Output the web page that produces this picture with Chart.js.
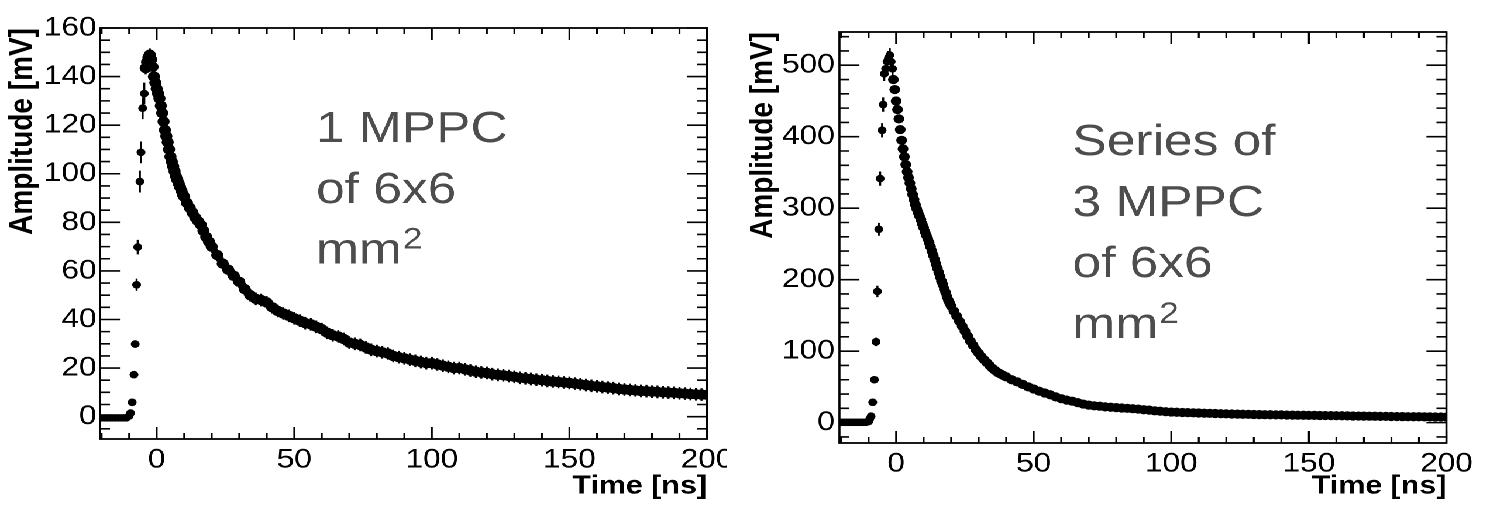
<!DOCTYPE html>
<html>
<head>
<meta charset="utf-8">
<script src="https://cdn.jsdelivr.net/npm/chart.js@4.4.1/dist/chart.umd.min.js"></script>
<style>
  body { margin: 0; background: #fff; width: 1500px; height: 527px; overflow: hidden; position: relative; }
  #stage { position: absolute; left: 0; top: 0; height: 527px; transform-origin: 0 0; }
  #stage canvas { position: absolute; top: 0; }
</style>
</head>
<body>
<div id="stage">
  <canvas id="left" width="621" height="527"></canvas>
  <canvas id="right" width="650" height="527"></canvas>
</div>
<script>
// ---- 1 MPPC of 6x6 mm2 ----
const timeBase1 = [-20, -19, -18, -17, -16, -15, -14, -13, -12, -11, -10];
const ampBase1 = [-0.5, -0.5, -0.5, -0.5, -0.5, -0.5, -0.5, -0.5, -0.5, -0.5, 0.3];
const timeRise1 = [-9.5, -8.9, -8.25, -7.8, -7.3, -6.9, -6.1, -5.7, -5.1, -4.5];
const ampRise1 = [1.5, 5.9, 17.3, 29.9, 54.3, 69.8, 96.8, 108.8, 127, 133];
const errRise1 = [0, 0.5, 1, 1.5, 2.5, 3, 4.5, 4.5, 4.5, 4.5];
const timeDecay1 = [-4, -3.5, -3, -2.5, -2, -1.5, -1, -0.5, 0, 0.5, 1, 1.5, 2, 2.5, 3, 3.5, 4, 4.5, 5, 5.5,
  6, 6.5, 7, 7.5, 8, 8.5, 9, 9.5, 10, 11, 12, 13, 14, 15, 16, 17, 18, 19,
  20, 22, 24, 26, 28, 30, 32, 34, 36, 38, 40, 42, 44, 46, 48, 50, 52, 54, 56, 58, 60, 62, 64, 66, 68, 70,
  72, 74, 76, 78, 80, 82, 84, 86, 88, 90, 92, 94, 96, 98, 100, 102, 104, 106, 108, 110, 112, 114, 116, 118,
  120, 122, 124, 126, 128, 130, 132, 134, 136, 138, 140, 142, 144, 146, 148, 150, 152, 154, 156, 158, 160,
  162, 164, 166, 168, 170, 172, 174, 176, 178, 180, 182, 184, 186, 188, 190, 192, 194, 196, 198, 200];
const ampDecay1 = [143.5, 146, 148, 149, 147, 144, 140, 137.5, 135, 133, 131, 128, 125, 121.5, 118, 115.5, 113, 110, 107, 105,
  103, 101, 99, 97.5, 96, 94.5, 93, 91.5, 90.5, 88, 86, 84, 82, 80.5, 79, 76.5, 74, 72,
  70, 66.5, 63, 60.5, 58, 55.5, 52.5, 50, 48.5, 48, 47, 45, 43.5, 42.5, 41.5, 40.5, 39.5, 38.5, 38, 37, 36, 34.5, 33.5, 33, 32, 30.5,
  30, 29.5, 28.5, 27.5, 27, 26.5, 26, 25, 24.5, 24, 23.5, 23, 22.5, 22, 22, 21.5, 21, 20.5, 20, 20, 19.5, 19, 18.5, 18.2,
  18, 17.5, 17.2, 17, 16.7, 16.4, 16, 15.8, 15.5, 15.2, 15, 14.7, 14.5, 14.3, 14.1, 13.9, 13.6, 13.3, 13, 12.7, 12.5,
  12.2, 12, 11.7, 11.4, 11.2, 11, 10.8, 10.6, 10.5, 10.3, 10.2, 10, 9.9, 9.8, 9.6, 9.5, 9.3, 9.2, 9.1, 9];
const errDecay1 = 2.6;

// ---- Series of 3 MPPC of 6x6 mm2 ----
const timeBase2 = [-20, -19, -18, -17, -16, -15, -14, -13, -12, -11, -10];
const ampBase2 = [0.5, 0.5, 0.5, 0.5, 0.5, 0.5, 0.5, 0.5, 0.5, 0.5, 1.5];
const timeRise2 = [-9.6, -9.1, -8.5, -7.9, -7.3, -6.8, -6.3, -5.8, -5.1, -4.7, -4.3, -3.8, -3.3, -2.8, -2.3, -1.8, -1.3];
const ampRise2 = [5, 9, 28.5, 60, 113, 183.5, 270.5, 341.4, 409, 445, 488, 495, 505, 510, 514, 505, 495];
const errRise2 = [0, 1, 2, 4, 6, 8, 9, 10, 10, 10, 10, 10, 10, 10, 10, 10, 10];
const timeDecay2 = [-1, -0.5, 0, 0.5, 1, 1.5, 2, 2.5, 3, 3.5, 4, 4.5, 5, 5.5, 6, 6.5, 7, 7.5, 8, 8.5, 9, 9.5,
  10, 10.5, 11, 11.5, 12, 12.5, 13, 13.5, 14, 14.5, 15, 15.5, 16, 16.5, 17, 17.5, 18, 18.5, 19, 19.5, 20,
  21, 22, 23, 24, 25, 26, 27, 28, 29, 30, 31, 32, 33, 34, 35, 36, 37, 38, 39, 40,
  42, 44, 46, 48, 50, 52, 54, 56, 58, 60, 62, 64, 66, 68, 70, 72, 74, 76, 78, 80, 82, 84, 86, 88, 90, 92, 94, 96, 98, 100,
  102, 104, 106, 108, 110, 112, 114, 116, 118, 120, 122, 124, 126, 128, 130, 132, 134, 136, 138, 140,
  142, 144, 146, 148, 150, 152, 154, 156, 158, 160, 162, 164, 166, 168, 170, 172, 174, 176, 178, 180,
  182, 184, 186, 188, 190, 192, 194, 196, 198, 200];
const ampDecay2 = [480, 466, 450, 438, 425, 410, 395, 383, 372, 361, 351, 343, 335, 327, 319, 312, 305, 299, 294, 289, 284, 278,
  273, 267, 262, 257, 252, 246, 240, 234, 228, 222, 216, 210, 204, 198, 193, 187, 182, 176, 171, 167, 163,
  156, 149, 142, 135, 128, 121, 114, 108, 102, 97, 92, 88, 84, 80, 76, 73, 70, 68, 66, 64,
  60, 57, 53.5, 50, 47, 44, 41.5, 39, 36, 33.5, 31.5, 30, 28, 26, 24.5, 23.5, 23, 22, 21.5, 21, 20.5, 20, 19.5, 19, 18, 17.5, 16.5, 16, 15.3, 14.8,
  14.5, 14.2, 14, 13.7, 13.5, 13.2, 13, 12.8, 12.5, 12.3, 12.1, 11.9, 11.7, 11.6, 11.4, 11.2, 11.1, 11, 10.9, 10.8,
  10.6, 10.5, 10.4, 10.3, 10.2, 10.1, 10, 9.9, 9.8, 9.7, 9.6, 9.5, 9.3, 9.2, 9.1, 9, 8.9, 8.8, 8.7, 8.6,
  8.5, 8.4, 8.3, 8.2, 8.2, 8.1, 8, 7.9, 7.9, 7.8];

// ticks and texts
const xTickValues = [0, 50, 100, 150, 200];
const yTickValues1 = [0, 20, 40, 60, 80, 100, 120, 140, 160];
const yTickValues2 = [0, 100, 200, 300, 400, 500];
const label1 = ['1 MPPC', 'of 6x6', 'mm²'];
const label2 = ['Series of', '3 MPPC', 'of 6x6', 'mm²'];

// the picture is stretched sideways, so the whole stage is too
const SX = 1.17;
const stage = document.getElementById('stage');
stage.style.width = (1500 / SX) + 'px';
stage.style.transform = 'scaleX(' + SX + ')';
document.getElementById('left').style.left = '0px';
document.getElementById('right').style.left = (740 / SX) + 'px';

const FONT = '"Liberation Sans", Arial, Helvetica, sans-serif';

function toPoints(ts, vs) {
  return ts.map((t, i) => ({ x: t, y: vs[i] }));
}

const errorBarPlugin = {
  id: 'errorBars',
  beforeDatasetsDraw(chart) {
    const { ctx } = chart;
    const y = chart.scales.y;
    ctx.save();
    ctx.strokeStyle = '#000';
    ctx.lineWidth = 1.7;
    chart.data.datasets.forEach((ds, i) => {
      if (!ds.yErr) return;
      const meta = chart.getDatasetMeta(i);
      ctx.beginPath();
      meta.data.forEach((pt, j) => {
        const e = Array.isArray(ds.yErr) ? ds.yErr[j] : ds.yErr;
        if (!e) return;
        const v = ds.data[j].y;
        ctx.moveTo(pt.x, y.getPixelForValue(v - e));
        ctx.lineTo(pt.x, y.getPixelForValue(v + e));
      });
      ctx.stroke();
    });
    ctx.restore();
  }
};

// ROOT style frame with inward ticks on all four sides
const framePlugin = {
  id: 'rootFrame',
  afterDraw(chart, args, o) {
    const { ctx, chartArea: a } = chart;
    const { x, y } = chart.scales;
    ctx.save();
    ctx.strokeStyle = '#000';
    ctx.lineWidth = 1.8;
    ctx.strokeRect(a.left, a.top, a.right - a.left, a.bottom - a.top);
    ctx.lineWidth = 1.6;
    ctx.beginPath();
    for (let k = Math.ceil(x.min / o.xMinor); k * o.xMinor <= x.max; k++) {
      const v = k * o.xMinor;
      const px = x.getPixelForValue(v);
      const len = v % o.xMajor === 0 ? 12 : 6;
      ctx.moveTo(px, a.bottom); ctx.lineTo(px, a.bottom - len);
      ctx.moveTo(px, a.top); ctx.lineTo(px, a.top + len);
    }
    for (let k = Math.ceil(y.min / o.yMinor); k * o.yMinor <= y.max; k++) {
      const v = k * o.yMinor;
      const py = y.getPixelForValue(v);
      const len = (v % o.yMajor === 0 ? 20 : 10) / SX;
      ctx.moveTo(a.left, py); ctx.lineTo(a.left + len, py);
      ctx.moveTo(a.right, py); ctx.lineTo(a.right - len, py);
    }
    ctx.stroke();
    ctx.restore();
  }
};

// big grey caption; a trailing "²" is set as a raised, smaller "2"
const labelPlugin = {
  id: 'panelLabel',
  afterDraw(chart, args, o) {
    const { ctx } = chart;
    ctx.save();
    ctx.fillStyle = '#4d4d4d';
    ctx.textBaseline = 'alphabetic';
    o.lines.forEach((line, i) => {
      const yy = o.y + i * o.gap;
      ctx.font = '44px ' + FONT;
      if (line.endsWith('²')) {
        const base = line.slice(0, -1);
        ctx.fillText(base, o.x, yy);
        const w = ctx.measureText(base).width;
        ctx.font = '30px ' + FONT;
        ctx.fillText('2', o.x + w + 1, yy - 15);
      } else {
        ctx.fillText(line, o.x, yy);
      }
    });
    ctx.restore();
  }
};

function makePanel(id, p) {
  const dot = { backgroundColor: '#000', borderWidth: 0, pointHoverRadius: 0 };
  return new Chart(document.getElementById(id), {
    type: 'scatter',
    data: {
      datasets: [
        { data: toPoints(p.baseT, p.baseA), pointRadius: 3.8, ...dot },
        { data: toPoints(p.riseT, p.riseA), yErr: p.riseE, pointRadius: 3.8, ...dot },
        { data: toPoints(p.decayT, p.decayA), yErr: p.decayE, pointRadius: p.rDecay, ...dot }
      ]
    },
    options: {
      responsive: false,
      animation: false,
      devicePixelRatio: 2,
      events: [],
      layout: { padding: { left: 0, top: p.top, right: p.padRight, bottom: 0 } },
      plugins: {
        legend: { display: false },
        tooltip: { enabled: false },
        rootFrame: { xMinor: 10, xMajor: 50, yMinor: p.yMinor, yMajor: p.yMajor },
        panelLabel: { lines: p.label, x: p.labelX, y: p.labelY, gap: p.labelGap }
      },
      scales: {
        x: {
          type: 'linear', min: -20.6, max: 200,
          afterBuildTicks: s => { s.ticks = xTickValues.map(v => ({ value: v })); },
          afterFit: s => { s.height = p.xAxisH; s.paddingLeft = 0; s.paddingRight = 0; },
          grid: { display: false, drawTicks: false },
          border: { display: false },
          ticks: { font: { family: FONT, size: 27 }, color: '#000', padding: 5, maxRotation: 0, autoSkip: false },
          title: { display: true, text: 'Time [ns]', align: 'end', color: '#000',
                   font: { family: FONT, size: 26, weight: 'bold' }, padding: { top: 0, bottom: 25 } }
        },
        y: {
          type: 'linear', min: p.yMin, max: p.yMax,
          afterBuildTicks: s => { s.ticks = p.yTicks.map(v => ({ value: v })); },
          afterFit: s => { s.width = 100 / SX; s.paddingTop = 0; s.paddingBottom = 0; },
          grid: { display: false, drawTicks: false },
          border: { display: false },
          ticks: { font: { family: FONT, size: 27 }, color: '#000', padding: p.yPad, autoSkip: false },
          title: { display: true, text: 'Amplitude [mV]', align: 'end', color: '#000',
                   font: { family: FONT, size: 28, weight: 'bold' }, padding: { top: p.yTitlePad, bottom: 0 } }
        }
      }
    },
    plugins: [errorBarPlugin, framePlugin, labelPlugin]
  });
}

makePanel('left', {
  baseT: timeBase1, baseA: ampBase1,
  riseT: timeRise1, riseA: ampRise1, riseE: errRise1,
  decayT: timeDecay1, decayA: ampDecay1, decayE: errDecay1, rDecay: 5.2,
  yMin: -9.2, yMax: 160, yTicks: yTickValues1, yMinor: 5, yMajor: 20,
  top: 28, padRight: 621 - 707 / SX, xAxisH: 88, yPad: 3, yTitlePad: 2.4,
  label: label1, labelX: 316 / SX, labelY: 142, labelGap: 60.8
});

makePanel('right', {
  baseT: timeBase2, baseA: ampBase2,
  riseT: timeRise2, riseA: ampRise2, riseE: errRise2,
  decayT: timeDecay2, decayA: ampDecay2, decayE: 0, rDecay: 4.6,
  yMin: -28.5, yMax: 546.5, yTicks: yTickValues2, yMinor: 20, yMajor: 100,
  top: 32, padRight: 650 - 707 / SX, xAxisH: 84, yPad: 4, yTitlePad: 3.7,
  label: label2, labelX: 333 / SX, labelY: 155, labelGap: 61
});
</script>
</body>
</html>
